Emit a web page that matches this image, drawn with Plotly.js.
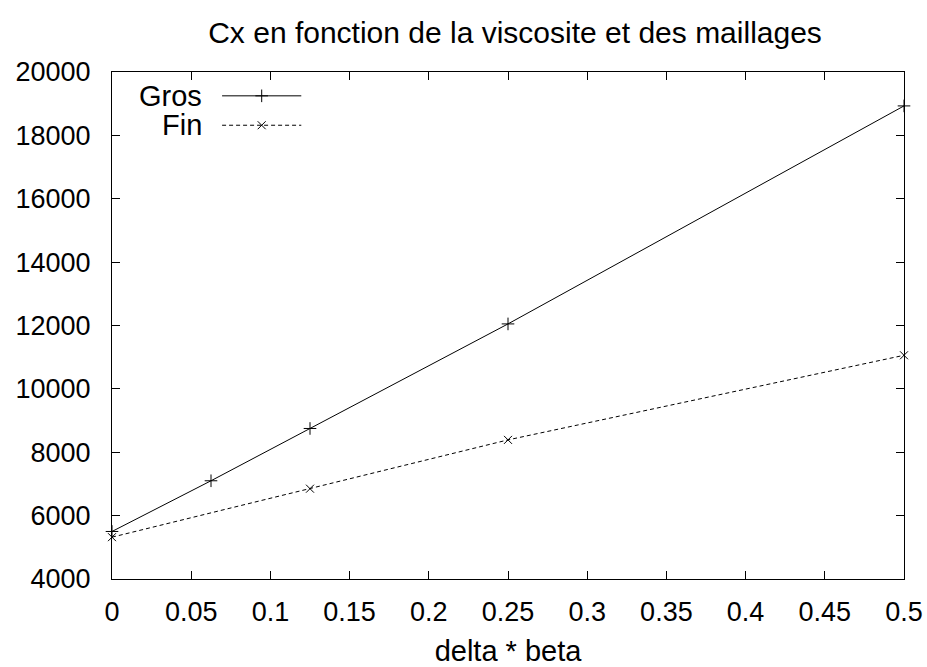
<!DOCTYPE html>
<html>
<head>
<meta charset="utf-8">
<script src="https://cdn.plot.ly/plotly-3.0.1.min.js"></script>
<style>html,body{margin:0;padding:0;background:#fff;}#chart{width:927px;height:667px;}</style>
</head>
<body>
<div id="chart"></div>
<script>
const xValues = [0, 0.0625, 0.125, 0.25, 0.5];
const grosValues = [5500, 7100, 8750, 12050, 18930];
const finX = [0, 0.125, 0.25, 0.5];
const finValues = [5320, 6850, 8390, 11060];
const seriesNames = ["Gros", "Fin"];
const xTicks = [0, 0.05, 0.1, 0.15, 0.2, 0.25, 0.3, 0.35, 0.4, 0.45, 0.5];
const yTicks = [4000, 6000, 8000, 10000, 12000, 14000, 16000, 18000, 20000];

const FONT = "Liberation Sans, Arial, sans-serif";
const BIG = 29, TICK = 27;

const traces = [
  {x: xValues, y: grosValues, name: seriesNames[0], mode: "lines+markers",
   line: {color: "#000", width: 1, dash: "solid"},
   marker: {symbol: "cross-thin-open", size: 9, color: "#000", line: {color: "#000", width: 1}},
   showlegend: false, cliponaxis: false},
  {x: finX, y: finValues, name: seriesNames[1], mode: "lines+markers",
   line: {color: "#000", width: 1, dash: "4px,3px"},
   marker: {symbol: "x-thin-open", size: 8, color: "#000", line: {color: "#000", width: 1}},
   showlegend: false, cliponaxis: false},
  // legend samples on a hidden overlay axis (0..1 across the plot area)
  {x: [0.189], y: [0.953], xaxis: "x2", yaxis: "y2", mode: "markers", hoverinfo: "skip",
   marker: {symbol: "cross-thin-open", size: 9, color: "#000", line: {color: "#000", width: 1}}, showlegend: false},
  {x: [0.189], y: [0.895], xaxis: "x2", yaxis: "y2", mode: "markers", hoverinfo: "skip",
   marker: {symbol: "x-thin-open", size: 8, color: "#000", line: {color: "#000", width: 1}}, showlegend: false}
];

const axisCommon = {
  showline: true, linecolor: "#000", linewidth: 1, mirror: "allticks",
  ticks: "inside", ticklen: 8, tickcolor: "#000", tickwidth: 1,
  showgrid: false, zeroline: false,
  tickfont: {family: FONT, size: TICK, color: "#000"}
};

const layout = {
  width: 927, height: 667,
  margin: {l: 112, r: 23, t: 72, b: 88},
  paper_bgcolor: "#fff", plot_bgcolor: "#fff",
  font: {family: FONT, color: "#000"},
  title: {text: "Cx en fonction de la viscosite et des maillages",
          font: {family: FONT, size: 30, color: "#000"},
          x: 0.5556, xanchor: "center", y: 0.951, yanchor: "middle"},
  xaxis: Object.assign({}, axisCommon, {
    range: [0, 0.5], tickvals: xTicks, ticktext: xTicks.map(String), ticklabelstandoff: 9,
    title: {text: "delta * beta", font: {family: FONT, size: BIG, color: "#000"}, standoff: 17}
  }),
  yaxis: Object.assign({}, axisCommon, {
    range: [4000, 20000], tickvals: yTicks, ticktext: yTicks.map(String), ticklabelstandoff: 15
  }),
  xaxis2: {overlaying: "x", range: [0, 1], visible: false, anchor: "y2"},
  yaxis2: {overlaying: "y", range: [0, 1], visible: false, anchor: "x2"},
  showlegend: false,
  shapes: [
    {type: "line", xref: "paper", yref: "paper", x0: 0.139, x1: 0.239, y0: 0.953, y1: 0.953,
     line: {color: "#000", width: 1}},
    {type: "line", xref: "paper", yref: "paper", x0: 0.139, x1: 0.239, y0: 0.895, y1: 0.895,
     line: {color: "#000", width: 1, dash: "4px,3px"}}
  ],
  annotations: [
    {text: seriesNames[0], xref: "paper", yref: "paper", x: 0.116, y: 0.953, xanchor: "right", yanchor: "middle",
     showarrow: false, font: {family: FONT, size: BIG, color: "#000"}},
    {text: seriesNames[1], xref: "paper", yref: "paper", x: 0.116, y: 0.895, xanchor: "right", yanchor: "middle",
     showarrow: false, font: {family: FONT, size: BIG, color: "#000"}}
  ]
};

Plotly.newPlot("chart", traces, layout, {staticPlot: true, displayModeBar: false});
</script>
</body>
</html>
